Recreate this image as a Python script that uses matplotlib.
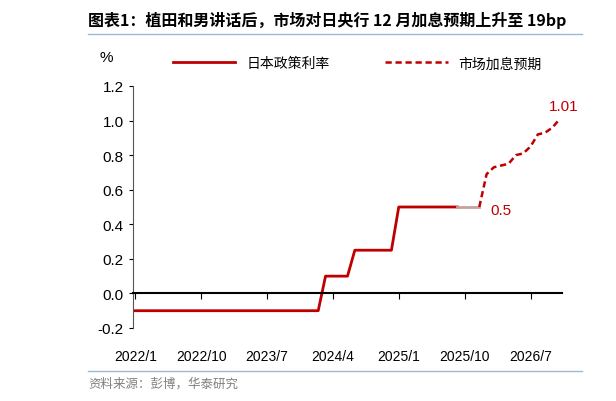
import numpy as np
import matplotlib.pyplot as plt
from matplotlib.lines import Line2D

plt.rcParams['font.family'] = ['Liberation Sans', 'Noto Sans CJK SC', 'DejaVu Sans']
plt.rcParams['font.size'] = 10

# months since 2022/1
policy_rate = [-0.1] * 26 + [0.1] * 4 + [0.25] * 6 + [0.5] * 9
policy_months = list(range(len(policy_rate)))
grey_months = [44, 45, 46, 47]
grey_rate = [0.5, 0.5, 0.5, 0.5]
expect_months = list(range(47, 59))
expect_rate = [0.5, 0.69, 0.73, 0.74, 0.75, 0.80, 0.81, 0.85, 0.92, 0.93, 0.96, 1.01]
tick_months = [0, 9, 18, 27, 36, 45, 54]
tick_labels = ['2022/1', '2022/10', '2023/7', '2024/4', '2025/1', '2025/10', '2026/7']

red = '#c00000'
fig = plt.figure(figsize=(6.16, 4.02), dpi=100)
ax = fig.add_axes([133 / 616, 1 - 329 / 402, (562 - 133) / 616, (329 - 87) / 402])

ax.plot(policy_months, policy_rate, color=red, lw=2)
ax.plot(grey_months, grey_rate, color='#c8a0a0', lw=2)
ax.plot(expect_months, expect_rate, color=red, lw=1.8, ls=(0, (2.5, 1.5)))
ax.text(expect_months[-1] - 1.5, 1.06, '1.01', color=red, fontsize=11)
ax.text(48.5, 0.48, '0.5', color=red, fontsize=11, va='center')

ax.set_xlim(-0.3, 58.3)
ax.set_ylim(-0.2, 1.2)
ax.set_yticks(np.arange(-0.2, 1.21, 0.2))
ax.set_yticklabels(['-0.2', '0.0', '0.2', '0.4', '0.6', '0.8', '1.0', '1.2'], fontsize=11)
ax.set_xticks(tick_months)
ax.set_xticklabels(tick_labels, fontsize=11)
ax.tick_params(axis='x', direction='out', length=4, pad=36)
ax.tick_params(axis='y', direction='out', length=3)
ax.spines['bottom'].set_position(('data', 0))
ax.spines['bottom'].set_linewidth(1.5)
ax.spines[['top', 'right']].set_visible(False)
ax.spines['left'].set_color('#555555')

handles = [Line2D([], [], color=red, lw=2),
           Line2D([], [], color=red, lw=1.8, ls=(0, (2.5, 1.5)))]
fig.legend(handles, ['日本政策利率', '市场加息预期'], loc='center', bbox_to_anchor=(0.58, 0.84),
           ncol=2, frameon=False, handlelength=4.5, columnspacing=4,
           prop={'family': 'Noto Sans CJK SC', 'size': 10})
fig.text(100 / 616, 1 - 62 / 402, '%', fontsize=11)

fig.text(88 / 616, 1 - 20 / 402, '图表1：植田和男讲话后，市场对日央行 12 月加息预期上升至 19bp',
         fontsize=11.5, fontweight='bold', va='center', family=['Noto Sans CJK SC'])
fig.add_artist(Line2D([88 / 616, 582 / 616], [1 - 35 / 402] * 2, color='#9fb8d0', lw=1))
fig.add_artist(Line2D([88 / 616, 582 / 616], [1 - 372 / 402] * 2, color='#9fb8d0', lw=1))
fig.text(88 / 616, 1 - 384 / 402, '资料来源：彭博，华泰研究', fontsize=9, color='#808080',
         va='center', family=['Noto Sans CJK SC'])

fig.savefig('out.png', dpi=100)
